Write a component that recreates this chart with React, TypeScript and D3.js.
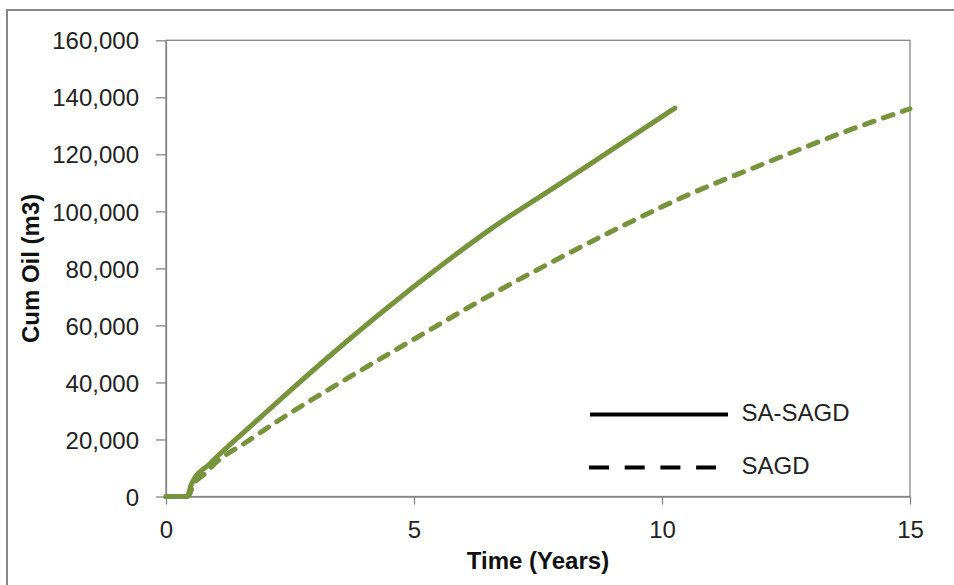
import React, { useEffect, useRef } from "react";
import * as d3 from "d3";

// ---- data (cumulative oil in m3, time in years) ----
const saSagdYears = [0, 0.42, 0.52, 0.89, 1.69, 2.43, 3.24, 4.32, 5.66, 6.53, 8.08, 9.02, 10.26];
const saSagdCum = [0, 0, 4600, 11600, 24400, 36000, 48400, 64200, 82500, 93600, 111200, 122000, 136200];

const sagdYears = [0, 0.44, 0.55, 0.8, 0.95, 1.63, 2.3, 3.04, 3.71, 4.45, 5.12, 6.33, 7.68, 9.02, 10.36, 12.24, 13.59, 15.0];
const sagdCum = [0, 0, 4000, 8300, 11000, 19200, 27000, 35000, 42000, 49600, 56400, 68600, 81300, 93300, 104500, 118000, 127300, 136000];

const xTicks = [0, 5, 10, 15];
const yTicks = [0, 20000, 40000, 60000, 80000, 100000, 120000, 140000, 160000];

const seriesNames = ["SA-SAGD", "SAGD"];
const xTitle = "Time (Years)";
const yTitle = "Cum Oil (m3)";

const W = 954;
const H = 585;
const M = { left: 166, top: 40.3, right: 910, bottom: 496.5 };
const GREEN = "#77933C";
const AXIS = "#868686";
const FONT = "'Liberation Sans', Arial, sans-serif";

export default function App() {
  const xRef = useRef<SVGGElement>(null);
  const yRef = useRef<SVGGElement>(null);

  const x = d3.scaleLinear().domain([0, 15]).range([M.left, M.right]);
  const y = d3.scaleLinear().domain([0, 160000]).range([M.bottom, M.top]);

  useEffect(() => {
    const gx = d3.select(xRef.current!);
    gx.selectAll("*").remove();
    gx.call(
      d3.axisBottom(x).tickValues(xTicks).tickSize(8).tickSizeOuter(0).tickPadding(16).tickFormat(d3.format("d"))
    );
    gx.select(".domain").attr("stroke", AXIS).attr("stroke-width", 1.3);
    gx.selectAll(".tick line").attr("stroke", AXIS).attr("stroke-width", 1.3);
    gx.selectAll(".tick text").attr("font-size", 24).attr("font-family", FONT).attr("fill", "#222");

    const gy = d3.select(yRef.current!);
    gy.selectAll("*").remove();
    gy.call(
      d3.axisLeft(y).tickValues(yTicks).tickSize(10).tickSizeOuter(0).tickPadding(17).tickFormat(d3.format(","))
    );
    gy.select(".domain").attr("stroke", AXIS).attr("stroke-width", 1.3);
    gy.selectAll(".tick line").attr("stroke", AXIS).attr("stroke-width", 1.3);
    gy.selectAll(".tick text").attr("font-size", 24).attr("font-family", FONT).attr("fill", "#222").attr("dy", "0.36em");
  }, []);

  const line = d3
    .line<[number, number]>()
    .x((d) => x(d[0]))
    .y((d) => y(d[1]))
    .curve(d3.curveMonotoneX);

  const saPts = saSagdYears.map((t, i) => [t, saSagdCum[i]] as [number, number]);
  const sagdPts = sagdYears.map((t, i) => [t, sagdCum[i]] as [number, number]);

  return (
    <div style={{ position: "fixed", left: 0, top: 0 }}>
      <svg width={W} height={H} style={{ display: "block", background: "#fff" }}>
        <rect x={7} y={10} width={W + 20} height={H + 20} fill="#fff" stroke={AXIS} strokeWidth={2} />
        <rect
          x={M.left}
          y={M.top}
          width={M.right - M.left}
          height={M.bottom - M.top}
          fill="none"
          stroke={AXIS}
          strokeWidth={1.3}
        />
        <g ref={xRef} transform={`translate(0,${M.bottom})`} />
        <g ref={yRef} transform={`translate(${M.left},0)`} />

        <path d={line(sagdPts) || ""} fill="none" stroke={GREEN} strokeWidth={5} strokeDasharray="10 10" strokeLinecap="round" />
        <path d={line(saPts) || ""} fill="none" stroke={GREEN} strokeWidth={5} strokeLinecap="round" />

        {/* legend */}
        <line x1={590} x2={728} y1={414.5} y2={414.5} stroke="#000" strokeWidth={4} />
        <text x={741.5} y={420.7} fontSize={24} fontFamily={FONT} fill="#222">
          {seriesNames[0]}
        </text>
        <line x1={589} x2={716} y1={467.5} y2={467.5} stroke="#000" strokeWidth={4} strokeDasharray="20 15.7" />
        <text x={741.5} y={473.5} fontSize={24} fontFamily={FONT} fill="#222">
          {seriesNames[1]}
        </text>

        {/* axis titles */}
        <text
          x={(M.left + M.right) / 2}
          y={568.5}
          textAnchor="middle"
          fontSize={24}
          fontWeight="bold"
          fontFamily={FONT}
          fill="#111"
        >
          {xTitle}
        </text>
        <text
          transform={`translate(39,${(M.top + M.bottom) / 2}) rotate(-90)`}
          textAnchor="middle"
          fontSize={24}
          fontWeight="bold"
          fontFamily={FONT}
          fill="#111"
        >
          {yTitle}
        </text>
      </svg>
    </div>
  );
}
